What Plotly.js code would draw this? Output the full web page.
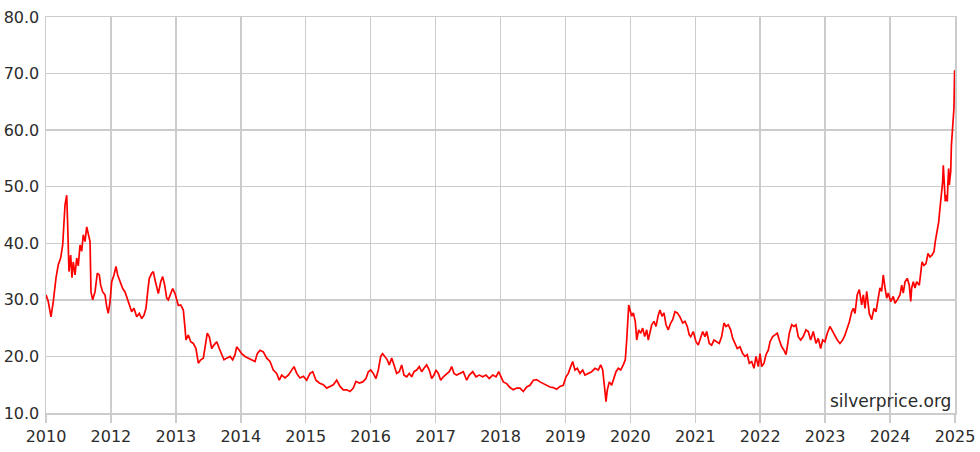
<!DOCTYPE html>
<html>
<head>
<meta charset="utf-8">
<script src="https://cdn.plot.ly/plotly-3.0.1.min.js"></script>
<style>
html,body{margin:0;padding:0;background:#fff;}
#chart{width:980px;height:452px;}
</style>
</head>
<body>
<div id="chart"></div>
<script>
// x positions in axis units (one unit per labelled gridline interval)
const xPos = [
0.000,0.035,0.077,0.112,0.154,0.189,0.226,0.257,0.293,0.319,0.334,0.354,0.380,0.400,0.420,0.447,0.473,0.497,0.524,0.550,
0.574,0.601,0.627,0.651,0.678,0.693,0.719,0.755,0.790,0.821,0.842,0.873,0.909,0.935,0.959,0.986,1.012,1.047,1.078,1.104,
1.140,1.181,1.217,1.252,1.283,1.320,1.355,1.397,1.437,1.474,1.509,1.540,1.566,1.591,1.628,1.653,1.679,1.705,1.730,1.767,
1.797,1.828,1.859,1.884,1.920,1.951,1.987,2.013,2.038,2.075,2.115,2.141,2.156,2.192,2.229,2.269,2.310,2.346,2.383,2.423,
2.449,2.484,2.515,2.552,2.587,2.629,2.669,2.706,2.741,2.783,2.834,2.875,2.911,2.937,2.977,3.014,3.065,3.116,3.168,3.219,
3.254,3.296,3.347,3.399,3.450,3.501,3.553,3.593,3.630,3.681,3.732,3.784,3.820,3.861,3.912,3.963,4.015,4.066,4.108,4.158,
4.209,4.271,4.323,4.374,4.425,4.477,4.528,4.579,4.631,4.682,4.733,4.774,4.825,4.878,4.928,4.964,5.001,5.041,5.082,5.118,
5.155,5.185,5.221,5.256,5.287,5.324,5.360,5.401,5.441,5.478,5.514,5.555,5.595,5.632,5.668,5.709,5.749,5.786,5.822,5.863,
5.903,5.940,5.976,6.006,6.042,6.079,6.119,6.171,6.211,6.248,6.284,6.325,6.376,6.427,6.479,6.519,6.572,6.623,6.673,6.726,
6.777,6.827,6.880,6.931,6.972,7.003,7.043,7.095,7.146,7.197,7.249,7.300,7.351,7.403,7.454,7.506,7.557,7.608,7.659,7.711,
7.762,7.813,7.865,7.916,7.967,8.009,8.044,8.081,8.112,8.147,8.183,8.224,8.266,8.301,8.352,8.404,8.455,8.506,8.543,8.574,
8.599,8.625,8.645,8.676,8.712,8.748,8.779,8.814,8.851,8.891,8.922,8.944,8.959,8.975,8.995,9.021,9.045,9.076,9.098,9.128,
9.159,9.190,9.221,9.252,9.276,9.302,9.329,9.364,9.395,9.430,9.456,9.487,9.518,9.549,9.584,9.621,9.652,9.687,9.723,9.764,
9.806,9.841,9.877,9.907,9.929,9.969,10.011,10.046,10.083,10.114,10.149,10.175,10.216,10.252,10.288,10.329,10.369,10.406,10.442,10.473,
10.508,10.545,10.576,10.611,10.647,10.688,10.730,10.765,10.801,10.832,10.869,10.904,10.935,10.970,10.997,11.023,11.058,11.089,11.124,11.151,
11.192,11.228,11.263,11.294,11.331,11.366,11.397,11.417,11.448,11.485,11.520,11.551,11.586,11.623,11.663,11.705,11.740,11.777,11.817,11.859,
11.894,11.931,11.962,11.997,12.033,12.074,12.116,12.150,12.187,12.228,12.270,12.306,12.341,12.372,12.409,12.434,12.460,12.494,12.526,12.563,
12.588,12.614,12.640,12.680,12.717,12.752,12.783,12.818,12.844,12.870,12.895,12.922,12.948,12.972,13.009,13.049,13.076,13.111,13.153,13.179,
13.203,13.230,13.265,13.296,13.318,13.333,13.358,13.384,13.410,13.450,13.472,13.492,13.522,13.553,13.584,13.614,13.645,13.676,13.696,13.727,
13.749,13.769,13.795,13.810,13.820,13.835,13.850,13.865,13.881,13.892,13.902,13.912,13.934,13.945,13.958,13.973,13.984,13.994
];
// silver price (USD/oz)
const price = [
30.9,29.7,27.0,29.7,33.9,36.2,37.4,39.7,46.8,48.5,43.2,35.0,37.9,33.9,36.7,34.4,37.4,36.0,39.7,38.6,
41.5,40.3,42.9,41.5,40.3,31.4,30.0,31.4,34.7,34.4,32.6,31.4,30.9,28.8,27.6,29.7,33.2,34.4,35.9,34.4,
33.2,32.0,31.4,30.3,29.1,27.9,28.5,27.0,27.6,26.7,27.3,28.5,31.4,33.8,34.7,35.0,33.5,32.0,31.1,33.2,
34.1,32.6,30.3,30.0,31.1,32.0,31.1,30.0,29.0,29.1,28.2,25.0,22.9,23.8,22.6,22.3,21.4,18.8,19.4,19.7,
21.7,24.1,23.5,21.4,22.0,22.6,21.4,20.5,19.4,19.7,20.0,19.4,20.3,21.7,21.1,20.5,20.0,19.7,19.4,19.1,
20.5,21.1,20.8,19.7,19.1,17.6,17.0,15.8,16.7,16.2,16.7,17.6,18.2,17.0,16.2,16.5,15.8,17.0,17.3,15.8,
15.3,15.0,14.4,14.7,15.0,15.8,14.7,14.1,14.1,13.8,14.4,15.6,15.3,15.5,16.1,17.3,17.6,17.0,16.1,17.6,
20.0,20.5,20.0,19.4,18.5,19.7,18.5,17.0,17.3,18.5,16.7,16.4,17.0,16.4,17.3,17.6,18.2,17.3,17.9,18.5,
17.6,16.1,16.7,17.6,17.0,15.8,16.4,17.0,17.3,18.2,17.0,16.7,17.0,17.3,15.8,16.7,17.3,16.4,16.7,16.4,
16.7,16.1,16.7,16.4,17.3,16.4,15.5,15.2,14.5,14.1,14.4,14.4,13.8,14.6,14.9,15.8,15.9,15.5,15.2,14.9,
14.6,14.5,14.2,14.7,14.9,16.4,17.0,18.2,19.1,17.6,17.9,17.0,17.6,16.7,17.0,17.3,17.9,17.6,18.5,17.6,
14.9,12.0,14.1,15.5,14.9,16.1,17.3,17.9,17.6,18.5,19.4,22.9,25.9,29.1,28.2,27.1,27.7,26.2,22.9,24.7,
24.1,25.0,23.5,24.7,22.9,24.1,25.6,26.2,25.3,27.3,28.2,27.1,27.7,25.6,24.7,25.9,26.5,27.9,27.7,27.0,
25.9,26.2,25.3,23.8,23.5,24.4,22.6,22.0,23.5,24.4,23.5,24.4,22.3,22.0,22.9,22.6,22.3,23.5,25.9,25.3,
25.6,24.7,23.2,22.3,21.4,21.7,20.5,20.0,20.3,18.8,19.1,17.9,20.0,18.2,20.5,18.2,18.8,20.3,21.1,22.6,
23.5,23.8,24.1,22.9,21.7,21.1,20.3,21.7,24.1,25.6,25.3,25.6,23.5,22.9,23.5,24.7,24.4,22.9,24.4,22.3,
23.2,21.4,22.9,22.6,24.1,25.3,24.4,23.5,22.9,22.3,22.9,23.8,25.0,26.1,27.9,28.5,27.6,30.9,31.8,29.1,
30.9,28.5,31.5,27.6,26.5,28.5,27.9,30.3,32.1,31.5,34.4,32.1,30.3,31.2,29.7,30.6,29.4,30.0,30.9,32.6,
31.2,33.2,33.8,32.6,29.7,32.1,33.2,32.1,33.2,32.6,35.0,36.7,36.1,36.4,38.2,37.6,37.9,38.5,40.3,42.1,
43.8,46.2,49.1,50.9,53.8,49.7,47.4,48.5,47.4,50.9,53.2,50.3,52.7,57.4,59.8,63.3,63.9,70.6
];
const xTickVals = [0,1,2,3,4,5,6,7,8,9,10,11,12,13,14];
const xTickText = ["2010","2012","2013","2014","2015","2016","2017","2018","2019","2020","2021","2022","2023","2024","2025"];
const yTickVals = [10,20,30,40,50,60,70,80];
const watermark = "silverprice.org";

const trace = {
  x: xPos, y: price, type: 'scatter', mode: 'lines',
  line: {color: '#ff0000', width: 1.7},
  hoverinfo: 'skip'
};
const gridCol = '#cccccc';
const layout = {
  width: 980, height: 452,
  margin: {l: 46, r: 25, t: 17, b: 39, pad: 0},
  paper_bgcolor: '#ffffff', plot_bgcolor: '#ffffff',
  showlegend: false,
  font: {family: 'DejaVu Sans, sans-serif', size: 16, color: '#2b2b2b'},
  xaxis: {
    range: [0, 14], tickmode: 'array', tickvals: xTickVals, ticktext: xTickText,
    showgrid: true, gridcolor: gridCol, gridwidth: 1.5,
    showline: true, linecolor: gridCol, linewidth: 1.5, mirror: true,
    ticks: 'outside', ticklen: 8, tickcolor: gridCol, tickwidth: 1.5,
    zeroline: false, fixedrange: true
  },
  yaxis: {
    range: [10, 80], tickmode: 'array', tickvals: yTickVals, tickformat: '.1f',
    showgrid: true, gridcolor: gridCol, gridwidth: 1.5,
    showline: true, linecolor: gridCol, linewidth: 1.5, mirror: true,
    ticks: '', ticklabelstandoff: 2,
    zeroline: false, fixedrange: true
  },
  annotations: [{
    text: watermark, xref: 'paper', yref: 'paper', x: 1, y: 0,
    xanchor: 'right', yanchor: 'bottom', xshift: -2, yshift: 0,
    showarrow: false, font: {family: 'DejaVu Sans, sans-serif', size: 17, color: '#2b2b2b'}
  }]
};
Plotly.newPlot('chart', [trace], layout, {staticPlot: true, displayModeBar: false});
</script>
</body>
</html>
